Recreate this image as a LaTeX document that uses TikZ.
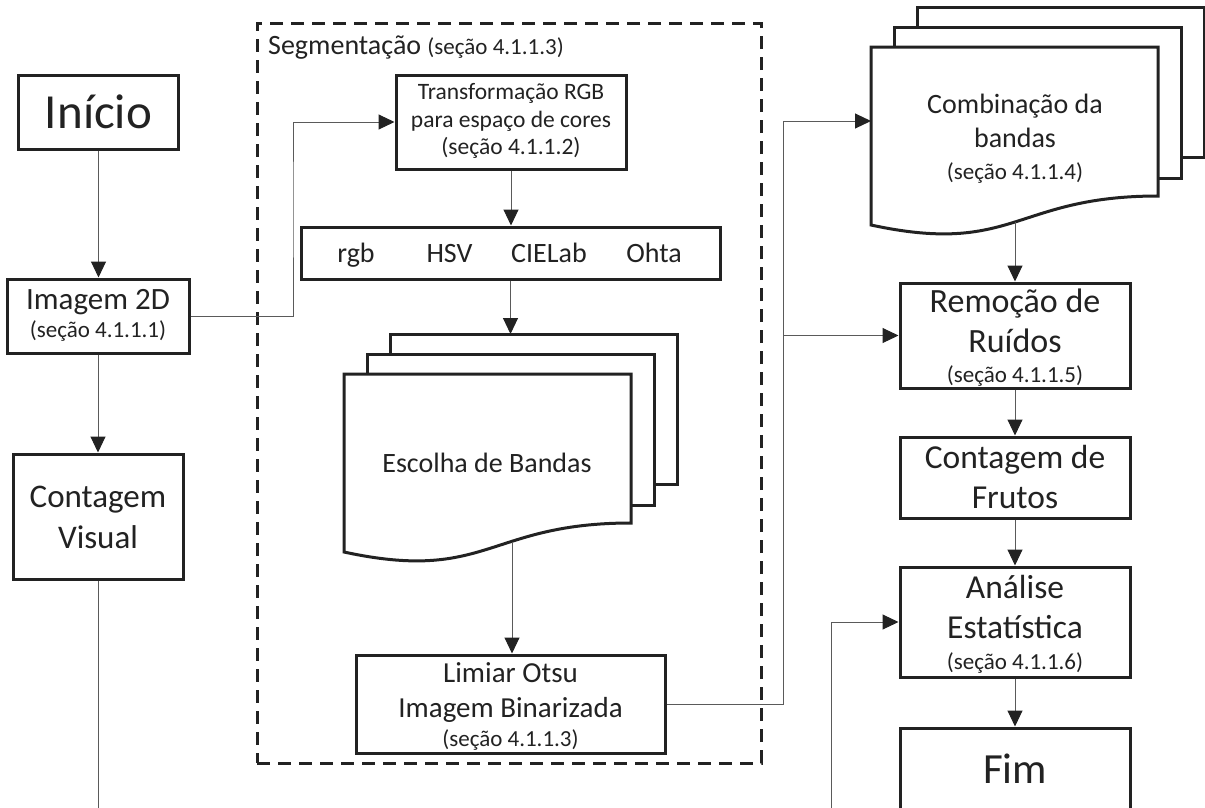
\documentclass[tikz,border=0pt]{standalone}
\usepackage{fontspec}
\setmainfont{Carlito}
\usetikzlibrary{arrows.meta}
\definecolor{ink}{HTML}{222222}
\definecolor{wire}{HTML}{5A5A5A}
\begin{document}
\begin{tikzpicture}[x=1pt,y=-1pt,
  bx/.style 2 args={draw=ink, line width=3pt, fill=white, inner sep=0pt, minimum width=#1, minimum height=#2},
  segbox/.style={draw=ink, line width=3pt, dash pattern=on 13pt off 8pt, inner sep=0pt},
  sheet/.style={draw=ink, line width=3pt, fill=white},
  txt/.style={font=\fontsize{#1}{#1}\selectfont, text=ink, anchor=base, inner sep=0pt},
  wireline/.style={draw=wire, line width=1pt},
  arr/.style={draw=wire, line width=1pt, -{Triangle[length=16pt,width=15pt,color=ink]}},
  docstack/.pic={
    \draw[sheet] (46,-40) rectangle (333,110);
    \draw[sheet] (23,-20) rectangle (310,131);
    \draw[sheet] (0,178) -- (0,0) -- (287,0) -- (287,149)
       .. controls (143.5,149) and (143.5,209) .. (0,178) -- cycle;
    \coordinate (-in) at (166.5,-40);
    \coordinate (-outA) at (168,168);
    \coordinate (-outB) at (144,175);
    \coordinate (-left) at (0,74);
  }]
\useasboundingbox (0,0) rectangle (1205,807);
\clip (0,0) rectangle (1205,807);

% dashed segmentation frame
\node[segbox, minimum width=504pt, minimum height=740pt] (seg) at (509,393) {};
\node[txt=28, anchor=base west] (tSeg) at (268,54) {Segmentação {\fontsize{23}{23}\selectfont (seção 4.1.1.3)}};

% left column
\node[bx={160pt}{74pt}] (inicio) at (98.5,112) {};
\node[txt=49] (tInicio) at (98.5,128) {Início};
\node[bx={182pt}{74pt}] (img2d) at (98,316) {};
\node[txt=31] (tImg1) at (98,309) {Imagem 2D};
\node[txt=23] (tImg2) at (98,337) {(seção 4.1.1.1)};
\node[bx={170pt}{125pt}] (cvis) at (98,516.5) {};
\node[txt=33] (tCv1) at (98,507) {Contagem};
\node[txt=33] (tCv2) at (98,548) {Visual};

% segmentation content
\node[bx={230pt}{94pt}] (transf) at (511,122) {};
\node[txt=23.5] (tTr1) at (511,99.5) {Transformação RGB};
\node[txt=23.5] (tTr2) at (511,127) {para espaço de cores};
\node[txt=23.5] (tTr3) at (511,154.5) {(seção 4.1.1.2)};

\node[bx={419pt}{52pt}] (bands) at (510.5,253) {};
\node[txt=28] (tRgb) at (356,262) {rgb};
\node[txt=28] (tHsv) at (449.5,262) {HSV};
\node[txt=28] (tLab) at (549,262) {CIELab};
\node[txt=28] (tOhta) at (654,262) {Ohta};

\pic (esc) at (344,374) {docstack};
\node[txt=28] (tEsc) at (487,472) {Escolha de Bandas};

\node[bx={309pt}{98pt}] (limiar) at (510.5,704) {};
\node[txt=29] (tLi1) at (510.5,682) {Limiar Otsu};
\node[txt=29] (tLi2) at (510.5,717) {Imagem Binarizada};
\node[txt=23] (tLi3) at (510.5,746) {(seção 4.1.1.3)};

% right column
\pic (comb) at (871,47) {docstack};
\node[txt=28] (tCo1) at (1015,113) {Combinação da};
\node[txt=28] (tCo2) at (1015,147) {bandas};
\node[txt=23] (tCo3) at (1015,179) {(seção 4.1.1.4)};

\node[bx={230pt}{105pt}] (remocao) at (1015,335.5) {};
\node[txt=34] (tRe1) at (1015,312) {Remoção de};
\node[txt=34] (tRe2) at (1015,352) {Ruídos};
\node[txt=23] (tRe3) at (1015,382) {(seção 4.1.1.5)};

\node[bx={230pt}{81pt}] (frutos) at (1015,477.5) {};
\node[txt=33.5] (tFr1) at (1015,468) {Contagem de};
\node[txt=33.5] (tFr2) at (1015,508) {Frutos};

\node[bx={230pt}{110pt}] (analise) at (1015,622) {};
\node[txt=33.5] (tAn1) at (1015,598) {Análise};
\node[txt=33.5] (tAn2) at (1015,638) {Estatística};
\node[txt=23] (tAn3) at (1015,669) {(seção 4.1.1.6)};

\node[bx={230pt}{84pt}] (fim) at (1015,770) {};
\node[txt=43] (tFim) at (1015,783) {Fim};

% helper coordinates
\coordinate (bendA) at (293,200);
\coordinate (junc) at (783,335.5);
\coordinate (cvEnd) at (98,815);
\coordinate (anaStart) at (831,815);

% connectors
\draw[arr] (inicio.south) -- (inicio.south |- img2d.north);
\draw[arr] (img2d.south) -- (cvis.north);
\draw[wireline] (cvis.south) -- (cvEnd);
\draw[arr] (img2d.east) -| (bendA) |- (transf.west);
\draw[arr] (transf.south) -- (transf.south |- bands.north);
\draw[arr] (bands.south) -- (esc-in);
\draw[arr] (esc-outA) -- (esc-outA |- limiar.north);
\draw[wireline] (limiar.east) -| (junc);
\draw[arr] (junc) |- (comb-left);
\draw[arr] (junc) -- (remocao.west);
\draw[arr] (comb-outB) -- (remocao.north);
\draw[arr] (remocao.south) -- (frutos.north);
\draw[arr] (frutos.south) -- (analise.north);
\draw[arr] (analise.south) -- (fim.north);
\draw[arr] (anaStart) |- (analise.west);
\end{tikzpicture}
\end{document}
